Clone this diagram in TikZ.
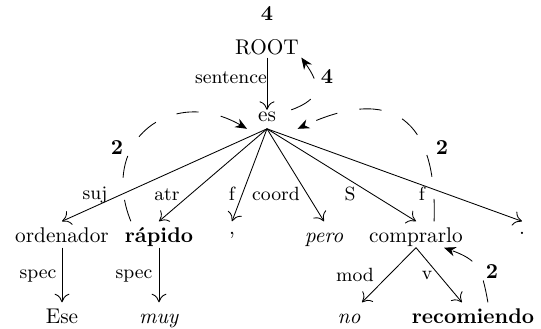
\documentclass[tikz,border=0pt]{standalone}
\usepackage{amsmath}
\usetikzlibrary{arrows,arrows.meta}
\begin{document}
\begin{tikzpicture}[x=0.47pt,y=-0.47pt]
  \useasboundingbox (0,0) rectangle (541,329);

  \tikzstyle{word}=[inner sep=1pt, text height=9pt, text depth=1pt, anchor=base];
  \tikzstyle{deplabel}=[inner sep=0pt, font=\small];
  \tikzstyle{stepnum}=[inner sep=0pt, font=\bfseries];
  \tikzstyle{dep}=[-{To[length=4pt,width=7pt]}];
  \tikzstyle{stepline}=[dash pattern=on 10.5pt off 10.5pt, -{Stealth[length=5.5pt,width=4.5pt]}];

  % tree
  \node (root) at (267, 55) [word, text depth=0pt]{ROOT};
  \node (es) at (267, 122) [word, text height=4.5pt, text depth=2pt]{es};

  \node (ordenador) at (62, 243) [word]{ordenador};
  \node (rapido) at (159, 243) [word]{\textbf{rápido}};
  \node (comma) at (232, 243) [word]{\raisebox{3.8pt}{,}};
  \node (pero) at (324, 243) [word]{\textit{pero}};
  \node (comprarlo) at (416, 243) [word]{comprarlo};
  \node (period) at (522, 243) [word]{\raisebox{3.8pt}{.}};

  \node (ese) at (62, 324) [word]{Ese};
  \node (muy) at (159, 324) [word]{\textit{muy}};
  \node (no) at (349, 324) [word]{\textit{no}};
  \node (recomiendo) at (473, 324) [word]{\textbf{recomiendo}};

  % labels
  \node (l_sentence) at (231, 78) [deplabel]{sentence};
  \node (l_suj) at (95, 195) [deplabel]{suj};
  \node (l_atr) at (167, 195) [deplabel]{atr};
  \node (l_f1) at (232, 194) [deplabel]{f};
  \node (l_coord) at (276, 194) [deplabel]{coord};
  \node (l_S) at (350, 194) [deplabel]{S};
  \node (l_f2) at (422, 194) [deplabel]{f};
  \node (l_spec1) at (38, 276) [deplabel]{spec};
  \node (l_spec2) at (134, 276) [deplabel]{spec};
  \node (l_mod) at (355, 275) [deplabel]{mod};
  \node (l_v) at (427, 275) [deplabel]{v};

  \node (n_root) at (267, 14) [stepnum]{4};
  \node (n_es) at (327, 77) [stepnum]{4};
  \node (n_rapido) at (117, 148) [stepnum]{2};
  \node (n_comprarlo) at (442, 148) [stepnum]{2};
  \node (n_recomiendo) at (492, 272) [stepnum]{2};

  \draw (root) edge[dep] (es);

  \draw (es.south) edge[dep] (ordenador.north);
  \draw (es.south) edge[dep] (rapido.north);
  \draw (es.south) edge[dep] (comma.north);
  \draw (es.south) edge[dep] (pero.north);
  \draw (es.south) edge[dep] (comprarlo.north);
  \draw (es.south) edge[dep] (period.north);

  \draw (ordenador) edge[dep] (ese);
  \draw (rapido) edge[dep] (muy);
  \draw (comprarlo.south) edge[dep] (no);
  \draw (comprarlo.south) edge[dep] (recomiendo);

  % steps
  \draw[stepline] ([xshift=6pt]es.north east) to[out=20, in=-55, looseness=1.6] (root.south east);
  \draw[stepline] ([xshift=4pt]rapido.north west) to[out=112, in=150, looseness=1.5] ([xshift=-4pt]es.south west);
  \draw[stepline] ([xshift=8.5pt]comprarlo.north) to[out=88, in=25, looseness=1.6] ([xshift=9pt]es.south east);
  \draw[stepline] ([xshift=7pt]recomiendo.north) to[out=100, in=-20, looseness=1.3] ([xshift=-10pt]comprarlo.south east);
\end{tikzpicture}
\end{document}
